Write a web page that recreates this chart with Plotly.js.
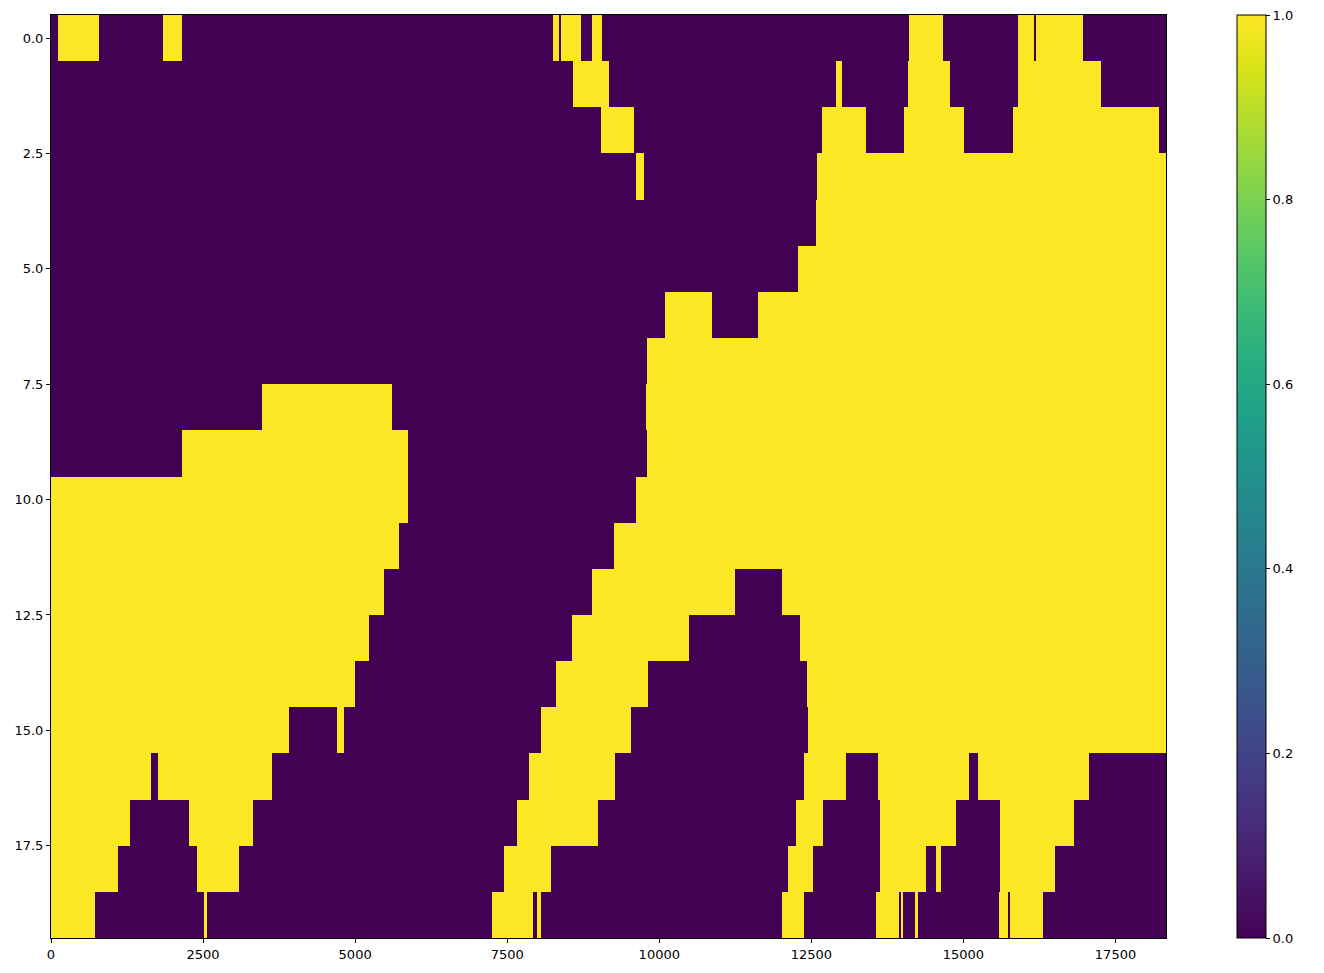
<!DOCTYPE html>
<html>
<head>
<meta charset="utf-8">
<script src="https://cdn.plot.ly/plotly-3.0.1.min.js"></script>
<style>html,body{margin:0;padding:0;background:#fff;}</style>
</head>
<body>
<div id="chart" style="width:1324px;height:973px;"></div>
<script>
// Sample axis extent (number of samples along x)
const xStart = 0;
const xEnd = 18330;

// Row indices (y)
const rowIndex = [0,1,2,3,4,5,6,7,8,9,10,11,12,13,14,15,16,17,18,19];

// Runs of value 1 (start, end sample) in each row; everything else is 0
const onRuns = [
  [[108,785],[1839,2150],[8248,8344],[8380,8709],[8889,9051],[14101,14663],[15892,16155],[16185,16961]],
  [[8578,9180],[12901,13003],[14083,14776],[15892,17254]],
  [[9039,9588],[12675,13397],[14018,15003],[15809,18209]],
  [[9618,9749],[12591,18330]],
  [[12573,18330]],
  [[12280,18330]],
  [[10096,10866],[11624,18330]],
  [[9797,18330]],
  [[3468,5613],[9785,18330]],
  [[2150,5876],[9797,18330]],
  [[0,5876],[9618,18330]],
  [[0,5726],[9260,18330]],
  [[0,5481],[8889,11242],[12018,18330]],
  [[0,5229],[8560,10488],[12306,18330]],
  [[0,5002],[8296,9813],[12423,18330]],
  [[0,3905],[4702,4822],[8051,9533],[12441,18330]],
  [[0,1652],[1755,3630],[7865,9272],[12376,13069],[13594,15086],[15235,17057]],
  [[0,1294],[2264,3318],[7661,8991],[12245,12687],[13624,14871],[15594,16812]],
  [[0,1096],[2396,3091],[7452,8225],[12113,12525],[13624,14382],[14543,14627],[15594,16501]],
  [[0,731],[2510,2570],[7242,7919],[7985,8063],[12024,12376],[13558,13940],[13970,14006],[14203,14251],[15582,15737],[15761,16316]]
];

const xTickVals = [0,2500,5000,7500,10000,12500,15000,17500];
const yTickVals = [0,2.5,5,7.5,10,12.5,15,17.5];
const yTickText = ["0.0","2.5","5.0","7.5","10.0","12.5","15.0","17.5"];
const cbTickVals = [0,0.2,0.4,0.6,0.8,1.0];

// Build column edges from every run boundary
const edgeSet = new Set([xStart, xEnd]);
onRuns.forEach(r => r.forEach(([a,b]) => { edgeSet.add(a); edgeSet.add(b); }));
const edges = Array.from(edgeSet).sort((a,b)=>a-b);
const z = rowIndex.map((ri) => {
  const runs = onRuns[ri];
  const row = [];
  for (let k = 0; k < edges.length - 1; k++) {
    const mid = (edges[k] + edges[k+1]) / 2;
    row.push(runs.some(([a,b]) => mid >= a && mid < b) ? 1 : 0);
  }
  return row;
});

const font = {family: "DejaVu Sans", size: 13, color: "#000"};

const trace = {
  type: "heatmap",
  z: z,
  x: edges,
  y: rowIndex,
  zmin: 0, zmax: 1,
  zsmooth: false,
  colorscale: "Viridis",
  hoverinfo: "skip",
  colorbar: {
    x: 1.0637, xanchor: "left", xref: "paper",
    y: 0.5, yanchor: "middle", len: 1, lenmode: "fraction",
    thickness: 29, thicknessmode: "pixels",
    outlinewidth: 1, outlinecolor: "#000",
    tickvals: cbTickVals, tickformat: ".1f",
    ticks: "outside", ticklen: 4, tickcolor: "#000",
    tickfont: font, xpad: 0, ypad: 0
  }
};

const layout = {
  width: 1324, height: 973,
  margin: {l: 51, r: 158, t: 15, b: 35},
  paper_bgcolor: "#fff", plot_bgcolor: "#fff",
  font: font,
  xaxis: {
    range: [xStart, xEnd], tickvals: xTickVals, ticktext: xTickVals.map(String),
    ticks: "outside", ticklen: 4, tickcolor: "#000",
    showline: true, linecolor: "#000", linewidth: 1, mirror: true,
    showgrid: false, zeroline: false, tickfont: font
  },
  yaxis: {
    range: [19.5, -0.5], tickvals: yTickVals, ticktext: yTickText,
    ticks: "outside", ticklen: 4, tickcolor: "#000",
    showline: true, linecolor: "#000", linewidth: 1, mirror: true,
    showgrid: false, zeroline: false, tickfont: font
  },
  showlegend: false
};

Plotly.newPlot("chart", [trace], layout, {displayModeBar: false, staticPlot: true});
</script>
</body>
</html>
